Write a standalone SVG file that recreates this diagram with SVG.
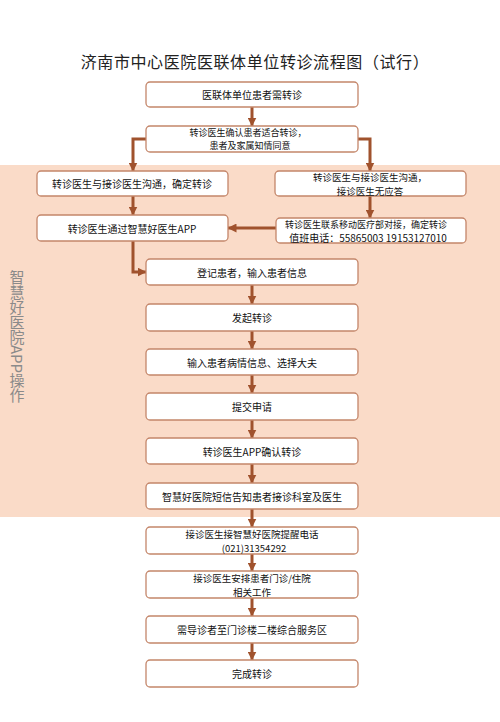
<svg xmlns="http://www.w3.org/2000/svg" width="500" height="722" viewBox="0 0 500 722">
<style>
.box{fill:#fff;stroke:#C4866A;stroke-width:1.3}
.t{font-family:"Noto Sans CJK SC","Noto Sans",sans-serif;font-size:10px;fill:#111;text-anchor:middle;dominant-baseline:central}
.s{font-size:9px}
.m{font-size:9.5px}
.c{fill:none;stroke:#A0522D;stroke-width:3;marker-end:url(#ah)}
</style>
<defs>
<marker id="ah" markerUnits="userSpaceOnUse" markerWidth="9" markerHeight="9" viewBox="0 0 9 9" refX="8.5" refY="4.5" orient="auto">
<path d="M0,0 L9,4.5 L0,9 z" fill="#A0522D"/>
</marker>
</defs>
<rect x="0" y="0" width="500" height="722" fill="#fff"/>
<rect x="0" y="165" width="500" height="352" fill="#FADBC8"/>
<text x="255" y="61" font-family="'Noto Sans CJK SC',sans-serif" font-size="16" letter-spacing="0.6" fill="#222" text-anchor="middle" dominant-baseline="central">济南市中心医院医联体单位转诊流程图（试行）</text>
<text x="17" y="270" font-family="'Noto Sans CJK SC',sans-serif" font-size="15" fill="#8a8a8a" style="writing-mode:vertical-rl">智慧好医院APP操作</text>

<g id="connectors">
<path class="c" d="M252,107 V126"/>
<path class="c" d="M146,139 H133 V171"/>
<path class="c" d="M358,139 H370 V171"/>
<path class="c" d="M133,196 V215"/>
<path class="c" d="M370,196 V218"/>
<path class="c" d="M276,228 H228"/>
<path class="c" d="M133,241 V272 H146"/>
<path class="c" d="M252,285 V304"/>
<path class="c" d="M252,331 V349"/>
<path class="c" d="M252,375 V393"/>
<path class="c" d="M252,420 V438"/>
<path class="c" d="M252,464 V483"/>
<path class="c" d="M252,509 V527"/>
<path class="c" d="M252,554 V571"/>
<path class="c" d="M252,598 V616"/>
<path class="c" d="M252,643 V660"/>
</g>

<g id="n1"><rect class="box" x="146" y="82" width="212" height="25" rx="4"/><text class="t" x="252" y="94.5">医联体单位患者需转诊</text></g>
<g id="n2"><rect class="box" x="146" y="126" width="212" height="26" rx="4"/><text class="t s" x="248" y="132.3">转诊医生确认患者适合转诊，</text><text class="t s" x="250" y="145.8">患者及家属知情同意</text></g>
<g id="n3"><rect class="box" x="37" y="171" width="191" height="25" rx="4"/><text class="t" x="132" y="183.5">转诊医生与接诊医生沟通，确定转诊</text></g>
<g id="n4"><rect class="box" x="275" y="171" width="191" height="25" rx="4"/><text class="t m" x="370" y="176.5">转诊医生与接诊医生沟通，</text><text class="t m" x="370" y="190.5">接诊医生无应答</text></g>
<g id="n5"><rect class="box" x="37" y="215" width="191" height="26" rx="4"/><text class="t" x="132" y="228">转诊医生通过智慧好医生APP</text></g>
<g id="n6"><rect class="box" x="276" y="218" width="190" height="25" rx="4"/><text class="t s" x="366" y="224.5">转诊医生联系移动医疗部对接，确定转诊</text><text class="t" x="368" y="237" font-size="8">值班电话：55865003  19153127010</text></g>
<g id="n7"><rect class="box" x="146" y="259" width="212" height="26" rx="4"/><text class="t" x="252" y="272">登记患者，输入患者信息</text></g>
<g id="n8"><rect class="box" x="146" y="304" width="212" height="27" rx="4"/><text class="t" x="252" y="317.5">发起转诊</text></g>
<g id="n9"><rect class="box" x="146" y="349" width="212" height="26" rx="4"/><text class="t" x="252" y="362">输入患者病情信息、选择大夫</text></g>
<g id="n10"><rect class="box" x="146" y="393" width="212" height="27" rx="4"/><text class="t" x="252" y="406.5">提交申请</text></g>
<g id="n11"><rect class="box" x="146" y="438" width="212" height="26" rx="4"/><text class="t" x="252" y="451">转诊医生APP确认转诊</text></g>
<g id="n12"><rect class="box" x="146" y="483" width="212" height="26" rx="4"/><text class="t" x="252" y="496">智慧好医院短信告知患者接诊科室及医生</text></g>
<g id="n13"><rect class="box" x="146" y="527" width="212" height="27" rx="4"/><text class="t m" x="252" y="533.5">接诊医生接智慧好医院提醒电话</text><text class="t m" x="254" y="547.5">(021)31354292</text></g>
<g id="n14"><rect class="box" x="146" y="571" width="212" height="27" rx="4"/><text class="t m" x="252" y="577.5">接诊医生安排患者门诊/住院</text><text class="t m" x="252" y="591.5">相关工作</text></g>
<g id="n15"><rect class="box" x="146" y="616" width="212" height="27" rx="4"/><text class="t" x="252" y="629.5">需导诊者至门诊楼二楼综合服务区</text></g>
<g id="n16"><rect class="box" x="146" y="660" width="212" height="27" rx="4"/><text class="t" x="252" y="673.5">完成转诊</text></g>
</svg>
